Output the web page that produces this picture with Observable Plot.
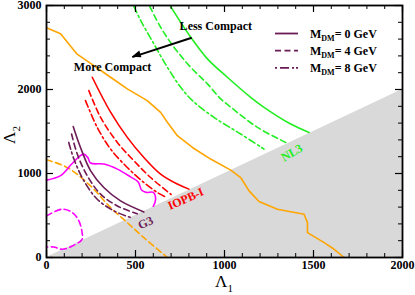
<!DOCTYPE html>
<html>
<head>
<meta charset="utf-8">
<script src="https://cdn.jsdelivr.net/npm/d3@7"></script>
<script src="https://cdn.jsdelivr.net/npm/@observablehq/plot@0.6"></script>
<style>
  html, body { margin: 0; padding: 0; background: #fff; }
  #chart { position: relative; width: 415px; height: 295px; }
</style>
</head>
<body>
<div id="chart"></div>
<script>
// ---- data (Λ1, Λ2) ----
const orangeSolid = [[0,2735],[79,2663],[170,2425],[266,2285],[360,2146],[454,2007],[566,1868],[641,1728],[679,1610],[735,1450],[820,1310],[922,1172],[1035,1040],[1091,952],[1138,793],[1194,666],[1297,575],[1447,515],[1466,415],[1466,296],[1560,177],[1616,98],[1672,0]];
const orangeDashed = [[0,1163],[116,1072],[247,853],[360,594],[454,415],[547,236],[679,0]];
const magentaSolid = [[0,921],[79,975],[140,1110],[182,1199],[210,1231],[232,1190],[247,1125],[322,1112],[398,1052],[472,960],[515,900],[535,800],[560,775],[600,775],[613,690],[600,610]];
const magentaDashed = [[0,495],[88,575],[145,535],[182,436],[200,296],[200,217],[145,137],[88,98],[41,125],[0,125]];
const g3_0 = [[150,1560],[191,1310],[248,1032],[322,833],[416,674],[547,543]];
const g3_4 = [[141,1470],[173,1231],[229,973],[304,754],[398,614],[510,520]];
const g3_8 = [[125,1370],[154,1172],[210,913],[285,694],[379,555],[482,470]];
const iopb_0 = [[257,2146],[360,1730],[454,1430],[547,1191],[641,993],[735,874],[800,814]];
const iopb_4 = [[238,1987],[304,1668],[398,1370],[491,1152],[585,952],[700,750]];
const iopb_8 = [[219,1868],[285,1549],[360,1291],[454,1072],[547,893],[623,773],[670,720]];
const nl3_0 = [[697,2990],[810,2623],[904,2365],[1016,2146],[1147,1907],[1222,1788],[1372,1589],[1475,1489]];
const nl3_4 = [[580,2990],[641,2742],[716,2504],[810,2265],[904,2067],[979,1888],[1035,1790],[1185,1549],[1344,1370]];
const nl3_8 = [[491,2990],[529,2822],[603,2544],[679,2265],[754,2026],[820,1868],[941,1668],[1091,1470],[1222,1291]];
const diagonal = [[0,0],[2000,2000]];

const xMajor = [0,500,1000,1500,2000];
const xMinor = d3.range(0,2001,100);
const yMajor = [0,1000,2000,3000];
const yMinor = d3.range(0,3001,200);

const legendItems = [
  {label:"= 0 GeV", dash:null},
  {label:"= 4 GeV", dash:"6,3.5"},
  {label:"= 8 GeV", dash:"2,3,9,3,2"}
];
const labels = [
  {text:"IOPB-I", x:782, y:698, rotate:-24, color:"#ff0000"},
  {text:"G3", x:557, y:412, rotate:-25, color:"#6b1b55"},
  {text:"NL3", x:1378, y:1247, rotate:-30, color:"#22ee22"},
  {text:"Less Compact", x:951, y:2760, rotate:0, color:"#000"},
  {text:"More Compact", x:371, y:2270, rotate:0, color:"#000"}
];
const arrowData = [{x1:816, y1:2616, x2:482, y2:2385}];

// ---- styles ----
const W = 415, H = 295, mL = 46, mR = 13, mT = 5, mB = 38;
const pw = W - mL - mR, ph = H - mT - mB;
const ORANGE = "#ffa500", RED = "#ff0000", GREEN = "#22ee22", MAG = "#ff00ff", PURPLE = "#6b1b55";
const DASH = "6,3.5", DASHDOT = "7,3,2,3";
const lw = 1.6;
const X = d => d[0], Y = d => d[1];
const ln = (data, stroke, dash, curve="catmull-rom") =>
  Plot.line(data, {x: X, y: Y, stroke, strokeWidth: lw, strokeDasharray: dash, curve});

const chart = Plot.plot({
  width: W, height: H,
  marginLeft: mL, marginRight: mR, marginTop: mT, marginBottom: mB,
  style: {fontFamily: "'Liberation Serif', 'DejaVu Serif', serif", fontSize: "12px", fontWeight: "bold", background: "#fff", overflow: "visible"},
  x: {domain: [0, 2000], axis: null},
  y: {domain: [0, 3000], axis: null},
  marks: [
    Plot.areaY(diagonal, {x: X, y: Y, fill: "#d9d9d9"}),
    ln(orangeSolid, ORANGE, null, "linear"),
    ln(orangeDashed, ORANGE, DASH),
    ln(magentaSolid, MAG, null),
    ln(magentaDashed, MAG, DASH),
    ln(g3_0, PURPLE, null), ln(g3_4, PURPLE, DASH), ln(g3_8, PURPLE, DASHDOT),
    ln(iopb_0, RED, null), ln(iopb_4, RED, DASH), ln(iopb_8, RED, DASHDOT),
    ln(nl3_0, GREEN, null), ln(nl3_4, GREEN, DASH), ln(nl3_8, GREEN, DASHDOT),
    Plot.link(arrowData, {x1:"x1", y1:"y1", x2:"x2", y2:"y2", stroke:"black", strokeWidth:2}),
    Plot.text(labels, {x:"x", y:"y", text:"text", rotate:"rotate", fill: d => d.color, fontSize: 12, fontWeight: "bold"}),
    // ticks (inward, all four sides)
    Plot.tickX(xMinor, {x: d => d, insetTop: ph - 4, stroke: "black", strokeWidth: 1}),
    Plot.tickX(xMajor, {x: d => d, insetTop: ph - 7, stroke: "black", strokeWidth: 1.2}),
    Plot.tickX(xMinor, {x: d => d, insetBottom: ph - 4, stroke: "black", strokeWidth: 1}),
    Plot.tickX(xMajor, {x: d => d, insetBottom: ph - 7, stroke: "black", strokeWidth: 1.2}),
    Plot.tickY(yMinor, {y: d => d, insetRight: pw - 4, stroke: "black", strokeWidth: 1}),
    Plot.tickY(yMajor, {y: d => d, insetRight: pw - 7, stroke: "black", strokeWidth: 1.2}),
    Plot.tickY(yMinor, {y: d => d, insetLeft: pw - 4, stroke: "black", strokeWidth: 1}),
    Plot.tickY(yMajor, {y: d => d, insetLeft: pw - 7, stroke: "black", strokeWidth: 1.2}),
    Plot.axisX(xMajor, {tickSize: 0, tickPadding: 3, label: null, tickFormat: d => String(d), fontSize: 12, fontWeight: "bold"}),
    Plot.axisY(yMajor, {tickSize: 0, tickPadding: 5, label: null, tickFormat: d => String(d), fontSize: 12, fontWeight: "bold"}),
    Plot.frame({stroke: "black", strokeWidth: 1.8})
  ]
});
document.getElementById("chart").appendChild(chart);

// ---- filled arrowhead, axis titles and legend ----
const svg = d3.select(chart);
const sx = chart.scale("x"), sy = chart.scale("y");
arrowData.forEach(a => {
  const x1 = sx.apply(a.x1), y1 = sy.apply(a.y1), x2 = sx.apply(a.x2), y2 = sy.apply(a.y2);
  const ang = Math.atan2(y2 - y1, x2 - x1), L = 9, w = 3.5;
  const bx = x2 - L * Math.cos(ang), by = y2 - L * Math.sin(ang);
  const px = -Math.sin(ang) * w, py = Math.cos(ang) * w;
  svg.append("polygon")
    .attr("points", `${x2},${y2} ${bx + px},${by + py} ${bx - px},${by - py}`)
    .attr("fill", "black");
});

const serif = "'Liberation Serif', 'DejaVu Serif', serif";
const xt = svg.append("text").attr("x", mL + pw/2).attr("y", 287)
  .attr("text-anchor", "middle").attr("font-family", serif).attr("font-size", 17).attr("font-weight", "normal").attr("fill", "black");
xt.append("tspan").text("Λ");
xt.append("tspan").attr("dy", 5).attr("font-size", 11).text("1");
const yt = svg.append("text").attr("transform", `translate(15,${mT + ph/2 + 4}) rotate(-90)`)
  .attr("text-anchor", "middle").attr("font-family", serif).attr("font-size", 17).attr("font-weight", "normal").attr("fill", "black");
yt.append("tspan").text("Λ");
yt.append("tspan").attr("dy", 5).attr("font-size", 11).text("2");

const lg = svg.append("g");
legendItems.forEach((l, i) => {
  const y = 33.5 + i * 17.2;
  lg.append("line").attr("x1", 275).attr("x2", 298).attr("y1", y).attr("y2", y)
    .attr("stroke", PURPLE).attr("stroke-width", 1.8).attr("stroke-dasharray", l.dash);
  const t = lg.append("text").attr("x", 310).attr("y", y + 4).attr("text-anchor", "start")
    .attr("font-family", serif).attr("font-size", 12).attr("font-weight", "bold").attr("fill", "black");
  t.append("tspan").text("M");
  t.append("tspan").attr("dy", 3).attr("font-size", 8).text("DM");
  t.append("tspan").attr("dy", -3).text(l.label);
});
</script>
</body>
</html>
